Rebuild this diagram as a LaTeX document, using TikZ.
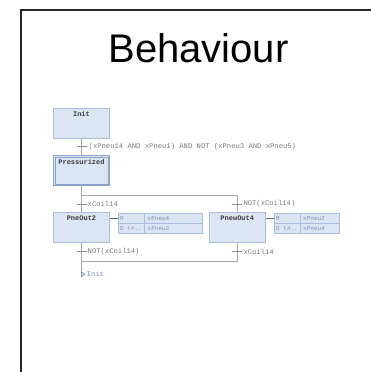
\documentclass[tikz,border=0pt]{standalone}
\usepackage{fontspec}
\setmainfont{Liberation Sans}
\newfontfamily\monof{Liberation Mono}
\definecolor{stepf}{HTML}{DCE5F4}
\definecolor{stepb}{HTML}{A9BDE0}
\definecolor{stepbb}{HTML}{8AA3CC}
\definecolor{wirec}{HTML}{A6A6A6}
\definecolor{barc}{HTML}{7F8FAA}
\definecolor{transt}{HTML}{7A7A7A}
\definecolor{stept}{HTML}{3A3A3A}
\definecolor{actt}{HTML}{8494B4}
\begin{document}
\begin{tikzpicture}[x=1pt,y=-1pt,
  wire/.style={draw=wirec, line width=0.8pt},
  bar/.style={draw=barc, line width=0.9pt},
  stepbox/.style={draw=stepb, fill=stepf, line width=0.8pt, minimum width=56pt, minimum height=30pt, inner sep=0pt},
  stepname/.style={font=\monof\bfseries\fontsize{7}{8}\selectfont, text=stept, inner sep=0pt, anchor=north},
  trans/.style={font=\monof\fontsize{7.2}{8}\selectfont, text=transt, inner sep=0pt, anchor=west},
  act/.style={font=\monof\fontsize{6}{7}\selectfont, text=actt, inner sep=0pt, anchor=west},
  actbox/.style={draw=stepb, fill=stepf, line width=0.7pt, inner sep=0pt, minimum height=20pt},
]
\useasboundingbox (0,0) rectangle (371,372);
% frame
\draw[line width=2pt, draw=black!85] (20.7,380) -- (20.7,10) -- (380,10);
% title
\node[font=\fontsize{40}{48}\selectfont, anchor=base, inner sep=0pt] (title) at (198.5,62) {Behaviour};

% steps
\node[stepbox] (init) at (81.5,123.3) {};
\node[stepname] (initname) at ([yshift=-3pt]init.north) {Init};
\node[stepbox, draw=stepbb] (press) at (81.5,170.8) {};
\draw[draw=stepbb, line width=0.6pt] ([shift={(1.8pt,-1.8pt)}]press.north west) rectangle ([shift={(-1.8pt,1.8pt)}]press.south east);
\node[stepname] (pressname) at ([yshift=-3.5pt]press.north) {Pressurized};
\node[stepbox] (pne2) at (81.5,227.7) {};
\node[stepname] (pne2name) at ([yshift=-3pt]pne2.north) {PneOut2};
\node[stepbox] (pne4) at (237.3,227.7) {};
\node[stepname] (pne4name) at ([yshift=-3pt]pne4.north) {PnewOut4};

% branch coordinates
\coordinate (bl) at (81.5,195.3);
\coordinate (br) at (237.3,195.3);
\coordinate (ml) at (81.5,261);
\coordinate (mr) at (237.3,261);
\coordinate (jmp) at (81.5,272);

% wires
\draw[wire] (init.south) -- (press.north);
\draw[wire] (press.south) -- (bl) -- (br) -- (pne4.north);
\draw[wire] (bl) -- (pne2.north);
\draw[wire] (pne2.south) -- (ml) -- (mr) -- (pne4.south);
\draw[wire] (ml) -- (jmp);

% transitions
\coordinate (t1) at (81.5,146.7);
\coordinate (t2) at (81.5,204);
\coordinate (t3) at (237.3,204);
\coordinate (t4) at (81.5,251.7);
\coordinate (t5) at (237.3,251.7);
\foreach \t in {t1,t2,t3,t4,t5}{
  \draw[bar] ([xshift=-5pt]\t) -- ([xshift=5pt]\t);
}
\node[trans] (t1l) at ([xshift=7pt]t1) {(xPneu14 AND xPneu1) AND NOT (xPneu3 AND xPneu5)};
\node[trans] (t2l) at ([xshift=6pt]t2) {xCoil14};
\node[trans] (t3l) at ([xshift=6pt]t3) {NOT(xCoil14)};
\node[trans] (t4l) at ([xshift=6pt]t4) {NOT(xCoil14)};
\node[trans] (t5l) at ([xshift=6pt]t5) {xCoil14};

% jump
\draw[draw=barc, fill=stepf, line width=0.6pt] (jmp) -- (85,274.3) -- (81.5,276.6) -- cycle;
\node[trans, text=actt] (jmpl) at (86.5,274.3) {Init};

% action blocks
\node[actbox, minimum width=83.2pt, anchor=north west] (actL) at (118.3,213.3) {};
\draw[draw=stepb, line width=0.6pt] (actL.west) -- (actL.east);
\draw[draw=stepb, line width=0.6pt] (144.5,213.3) -- (144.5,233.3);
\node[act] (aLq1) at (120,218.3) {R};
\node[act] (aLv1) at (147.5,218.3) {xPneu4};
\node[act] (aLq2) at (120,228.3) {D t\#..};
\node[act] (aLv2) at (147.5,228.3) {xPneu2};
\coordinate (aL) at ([yshift=5pt]actL.west);
\draw[wire, draw=black!60] (pne2.east |- aL) -- (aL);

\node[actbox, minimum width=64.7pt, anchor=north west] (actR) at (274.3,213.3) {};
\draw[draw=stepb, line width=0.6pt] (actR.west) -- (actR.east);
\draw[draw=stepb, line width=0.6pt] (300,213.3) -- (300,233.3);
\node[act] (aRq1) at (276,218.3) {R};
\node[act] (aRv1) at (303,218.3) {xPneu2};
\node[act] (aRq2) at (276,228.3) {D t\#..};
\node[act] (aRv2) at (303,228.3) {xPneu4};
\coordinate (aR) at ([yshift=5pt]actR.west);
\draw[wire, draw=black!60] (pne4.east |- aR) -- (aR);
\end{tikzpicture}
\end{document}
